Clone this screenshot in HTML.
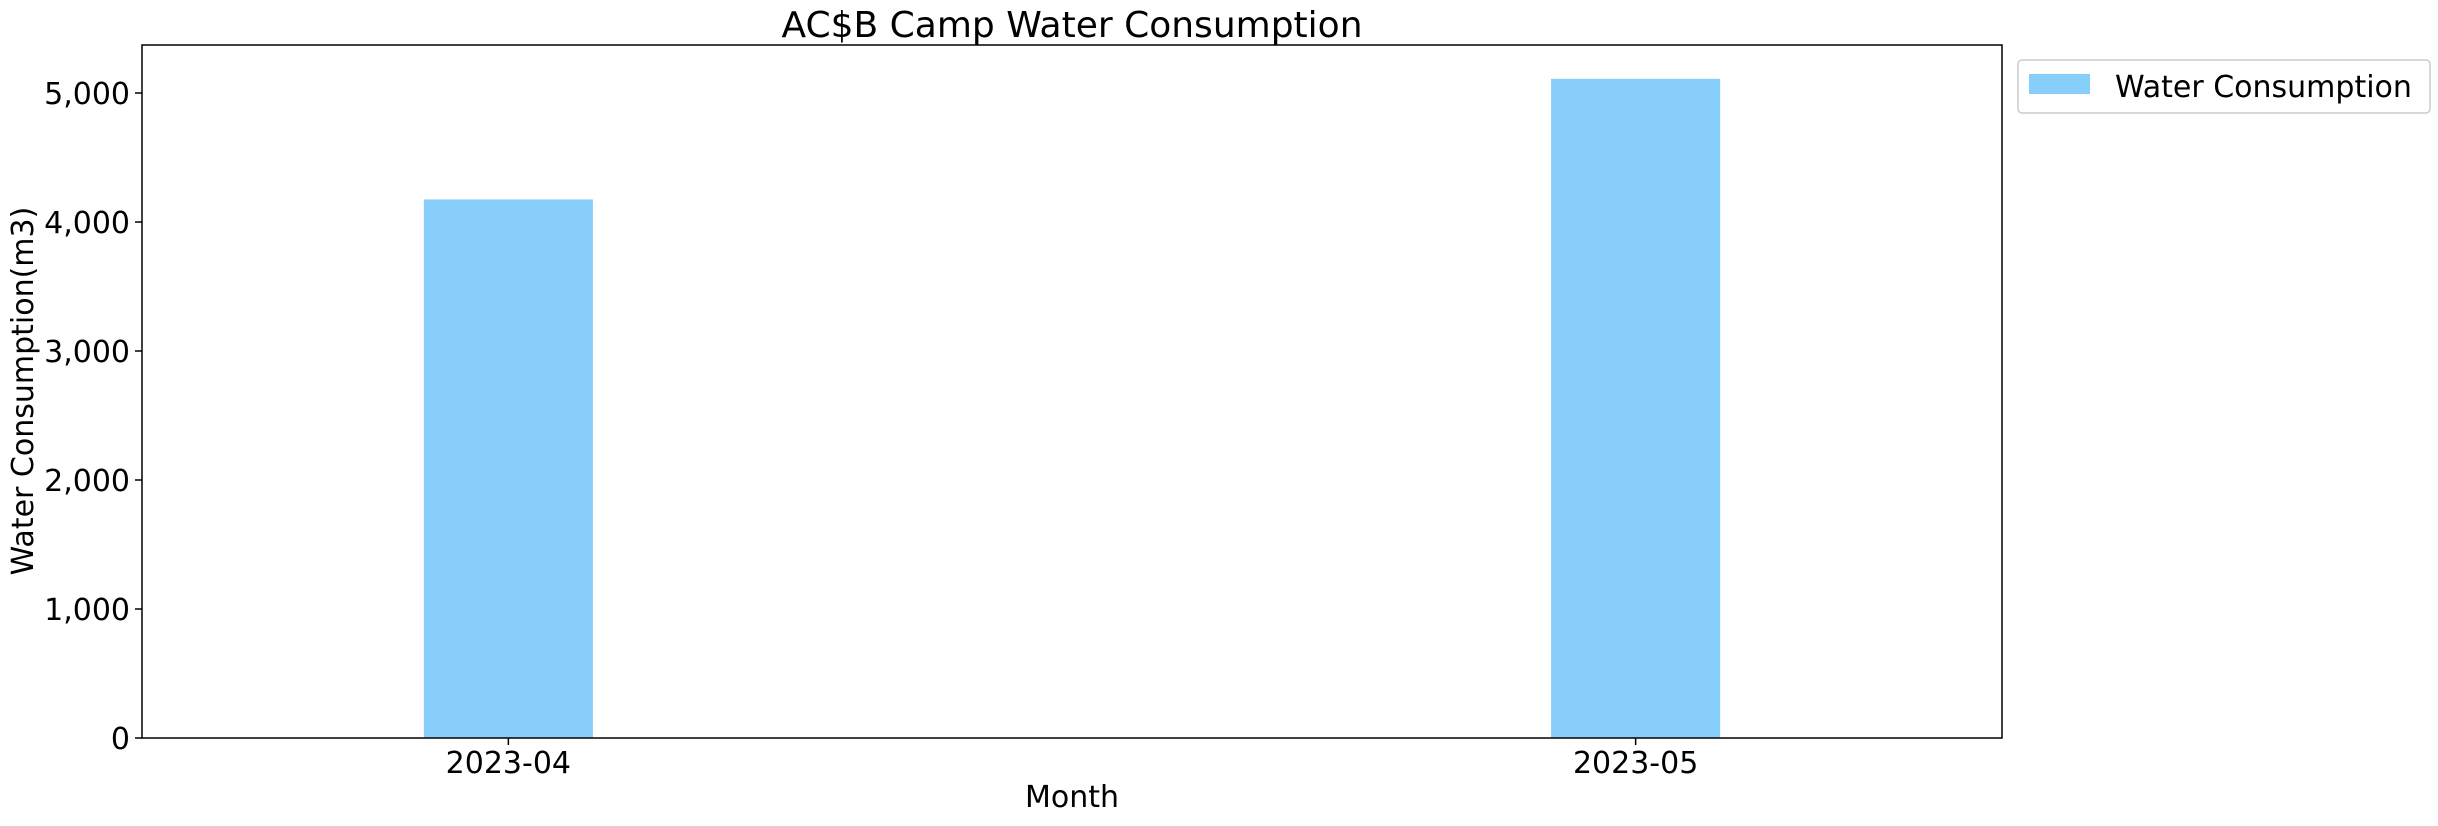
<!DOCTYPE html>
<html><head><meta charset="utf-8"><style>
html,body{margin:0;padding:0;background:#fff;}
svg text{font-family:"DejaVu Sans","Liberation Sans",sans-serif;fill:#000;}
</style></head><body>
<svg id="chart" width="2438" height="821" viewBox="0 0 2438 821" xmlns="http://www.w3.org/2000/svg">
<text x="1072" y="37" font-size="36" text-anchor="middle">AC$B Camp Water Consumption</text>
<g id="plot"></g>
<rect x="142" y="45" width="1860" height="693" fill="none" stroke="#000" stroke-width="1.5"/>
<text transform="translate(33,391) rotate(-90)" font-size="30" text-anchor="middle">Water Consumption(m3)</text>
<text x="1072" y="807" font-size="30" text-anchor="middle">Month</text>
<g>
<rect x="2018" y="60" width="412" height="53" rx="4" fill="#fff" stroke="#ccc" stroke-width="1.5"/>
<rect x="2029" y="74" width="61" height="20" fill="#87cefa"/>
<text x="2115" y="97" font-size="30">Water Consumption</text>
</g>
</svg>
<script>
const categories = ["2023-04", "2023-05"];
const values = [4175, 5110];
const yTicks = [0, 1000, 2000, 3000, 4000, 5000];
const yTickLabels = ["0", "1,000", "2,000", "3,000", "4,000", "5,000"];

const NS = "http://www.w3.org/2000/svg";
const L = 142, R = 2002, T = 45, B = 738;
const xMin = -0.325, xMax = 1.325, barW = 0.15;
const yMax = (B - T) / 129 * 1000;
const xs = v => L + (v - xMin) / (xMax - xMin) * (R - L);
const ys = v => B - v / yMax * (B - T);
const g = document.getElementById('plot');
function mk(tag, attrs) { const e = document.createElementNS(NS, tag); for (const k in attrs) e.setAttribute(k, attrs[k]); g.appendChild(e); return e; }

categories.forEach((c, i) => {
  const b = mk('rect', {x: xs(i - barW / 2), y: ys(values[i]), width: xs(i + barW / 2) - xs(i - barW / 2), height: ys(0) - ys(values[i]), fill: '#87cefa'});
  
  
  const t = mk('line', {x1: xs(i), x2: xs(i), y1: B, y2: B + 7, stroke: '#000', 'stroke-width': 1.5});
  
  
  const lb = mk('text', {x: xs(i), y: B + 35, 'font-size': 30, 'text-anchor': 'middle'});
  lb.textContent = c;
  
  
});
yTicks.forEach((v, i) => {
  const t = mk('line', {x1: L - 7, x2: L, y1: ys(v), y2: ys(v), stroke: '#000', 'stroke-width': 1.5});
  
  
  const lb = mk('text', {x: L - 12, y: ys(v) + 11, 'font-size': 30, 'text-anchor': 'end'});
  lb.textContent = yTickLabels[i];
  
  
});
</script>
</body></html>
